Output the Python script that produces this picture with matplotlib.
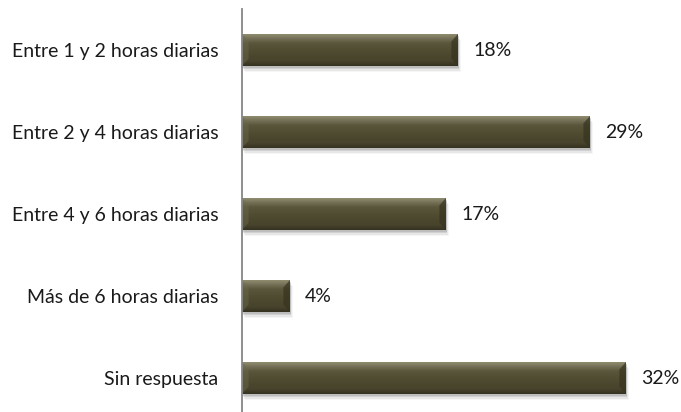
import matplotlib
matplotlib.use("Agg")
import numpy as np
import matplotlib.pyplot as plt
from matplotlib.patches import Polygon
from matplotlib.colors import LinearSegmentedColormap
from matplotlib import patheffects

categories = [
    "Entre 1 y 2 horas diarias",
    "Entre 2 y 4 horas diarias",
    "Entre 4 y 6 horas diarias",
    "Más de 6 horas diarias",
    "Sin respuesta",
]
values = [18, 29, 17, 4, 32]
value_labels = ["18%", "29%", "17%", "4%", "32%"]

AXIS_COLOR = "#868686"
TEXT_COLOR = "#1a1a1a"
RIGHT_COLOR = "#36331f"
LEFT_COLOR = "#6e6a4c"

# vertical gradient of the bevelled bars, top -> bottom
bar_cmap = LinearSegmentedColormap.from_list("bevel", [
    (0.0, "#908c6e"),
    (0.12, "#77735a"),
    (0.28, "#5a563b"),
    (0.55, "#4f4b31"),
    (0.85, "#47432c"),
    (1.0, "#353220"),
])

plt.rcParams["font.family"] = ["Lato", "DejaVu Sans"]

W, H = 681, 412
fig = plt.figure(figsize=(W / 100, H / 100), dpi=100)
ax = fig.add_axes([242 / W, 0, (W - 242) / W, (412 - 9) / H])

bar_h = 0.39
ypos = list(range(len(categories)))
bars = ax.barh(ypos, values, height=bar_h, color="#4f4b31", linewidth=0)

shadow = []
for dx, dy, a in [(0.5, -1.5, 0.25), (1, -2.5, 0.2), (1.5, -3.5, 0.12), (2, -4.5, 0.07)]:
    shadow.append(patheffects.SimplePatchShadow(offset=(dx, dy), shadow_rgbFace="#808080", alpha=a))
shadow.append(patheffects.Normal())

grad = np.linspace(0, 1, 64).reshape(-1, 1)
bx = 0.55
by = 0.09
for b, y, w, lab in zip(bars, ypos, values, value_labels):
    b.set_path_effects(shadow)
    top = y - bar_h / 2
    bot = y + bar_h / 2
    im = ax.imshow(grad, cmap=bar_cmap, aspect="auto", extent=(0, w, bot, top),
                   interpolation="bilinear", zorder=2)
    im.set_clip_path(b)
    ex = min(bx, w / 2)
    ax.add_patch(Polygon([(0, top), (ex, top + by), (ex, bot - by), (0, bot)],
                         closed=True, facecolor=LEFT_COLOR, alpha=0.45, lw=0, zorder=3))
    ax.add_patch(Polygon([(w, top), (w - ex, top + by), (w - ex, bot - by), (w, bot)],
                         closed=True, facecolor=RIGHT_COLOR, alpha=0.7, lw=0, zorder=3))
    ax.annotate(lab, xy=(w, y), xytext=(11, 0), textcoords="offset points",
                va="center", ha="left", fontsize=14, color=TEXT_COLOR)

ax.set_xlim(0, (W - 242) / 12)
ax.set_ylim((412 - 50) / 82, -0.5)
ax.set_yticks(ypos)
ax.set_yticklabels(categories, fontsize=14, color=TEXT_COLOR)
ax.tick_params(axis="y", length=0, pad=17)
ax.set_xticks([])
for side in ("top", "right", "bottom"):
    ax.spines[side].set_visible(False)
ax.spines["left"].set_color(AXIS_COLOR)
ax.spines["left"].set_linewidth(1.3)
ax.spines["left"].set_zorder(4)

fig.savefig("out.png", dpi=100, facecolor="white")
